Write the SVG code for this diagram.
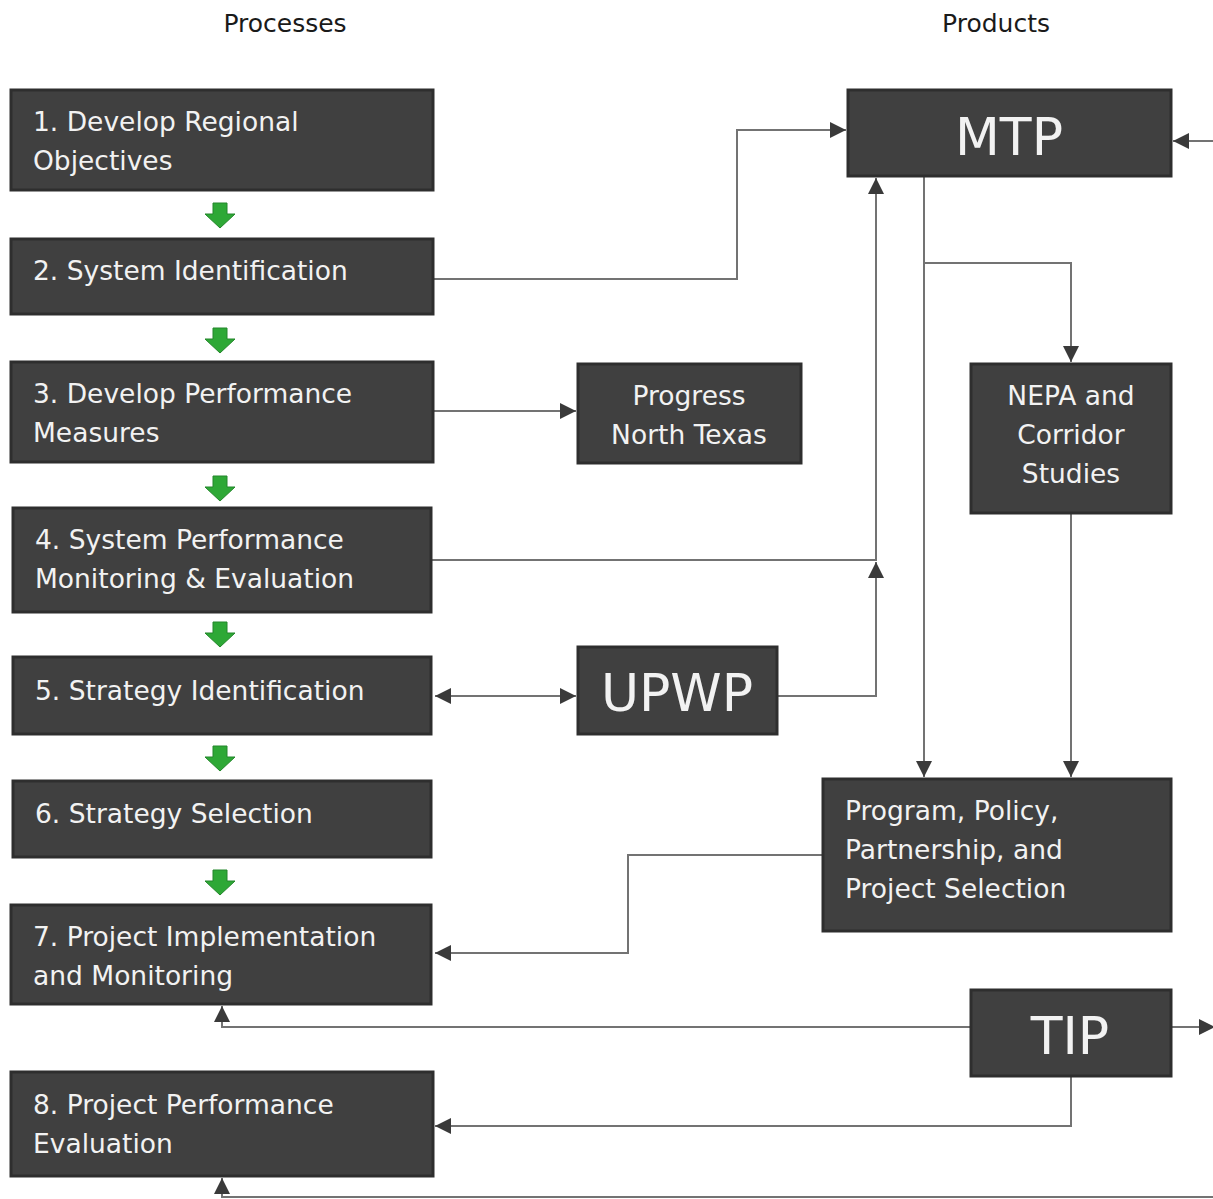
<svg xmlns="http://www.w3.org/2000/svg" width="1213" height="1199" viewBox="0 0 1213 1199">
<defs>
<style>
.box{fill:#404040;stroke:#2e2e2e;stroke-width:3}
.t{font-family:"DejaVu Sans",sans-serif;font-size:26.5px;fill:#f2f2f2}
.big{font-family:"DejaVu Sans",sans-serif;font-size:52px;fill:#f2f2f2;text-anchor:middle}
.c{text-anchor:middle}
.hdr{font-family:"DejaVu Sans",sans-serif;font-size:25px;fill:#1a1a1a;text-anchor:middle}
.ln{fill:none;stroke:#737373;stroke-width:2}
.g{fill:#2ea836;stroke:#23862a;stroke-width:1}
</style>
<marker id="ah" viewBox="0 0 10 10" refX="10" refY="5" markerWidth="16" markerHeight="16" markerUnits="userSpaceOnUse" orient="auto-start-reverse">
<path d="M0,0 L10,5 L0,10 Z" fill="#3a3a3a"/>
</marker>
<path id="garrow" d="M-7,0 H7 V11 H15 L0,25 L-15,11 H-7 Z"/>
</defs>
<rect width="1213" height="1199" fill="#ffffff"/>
<text class="hdr" x="285" y="32">Processes</text>
<text class="hdr" x="996" y="32">Products</text>

<g id="connectors">
<polyline class="ln" points="433,279 737,279 737,130 846,130" marker-end="url(#ah)"/>
<line class="ln" x1="433" y1="411" x2="576" y2="411" marker-end="url(#ah)"/>
<polyline class="ln" points="431,560 876,560 876,178" marker-end="url(#ah)"/>
<polyline class="ln" points="777,696 876,696 876,562" marker-end="url(#ah)"/>
<line class="ln" x1="435" y1="696" x2="576" y2="696" marker-start="url(#ah)" marker-end="url(#ah)"/>
<line class="ln" x1="924" y1="176" x2="924" y2="777" marker-end="url(#ah)"/>
<polyline class="ln" points="924,263 1071,263 1071,362" marker-end="url(#ah)"/>
<line class="ln" x1="1071" y1="513" x2="1071" y2="777" marker-end="url(#ah)"/>
<polyline class="ln" points="823,855 628,855 628,953 435,953" marker-end="url(#ah)"/>
<polyline class="ln" points="971,1027 222,1027 222,1006" marker-end="url(#ah)"/>
<line class="ln" x1="1171" y1="1027" x2="1215" y2="1027" marker-end="url(#ah)"/>
<polyline class="ln" points="1071,1076 1071,1126 435,1126" marker-end="url(#ah)"/>
<polyline class="ln" points="1215,1197 222,1197 222,1178" marker-end="url(#ah)"/>
<line class="ln" x1="1215" y1="141" x2="1173" y2="141" marker-end="url(#ah)"/>
</g>

<g id="flow-arrows">
<use href="#garrow" class="g" x="220" y="203"/>
<use href="#garrow" class="g" x="220" y="328"/>
<use href="#garrow" class="g" x="220" y="476"/>
<use href="#garrow" class="g" x="220" y="622"/>
<use href="#garrow" class="g" x="220" y="746"/>
<use href="#garrow" class="g" x="220" y="870"/>
</g>

<g id="n1"><rect class="box" x="11" y="90" width="422" height="100"/>
<text class="t" x="33" y="131">1. Develop Regional</text><text class="t" x="33" y="170">Objectives</text></g>
<g id="n2"><rect class="box" x="11" y="239" width="422" height="75"/>
<text class="t" x="33" y="280">2. System Identification</text></g>
<g id="n3"><rect class="box" x="11" y="362" width="422" height="100"/>
<text class="t" x="33" y="403">3. Develop Performance</text><text class="t" x="33" y="442">Measures</text></g>
<g id="n4"><rect class="box" x="13" y="508" width="418" height="104"/>
<text class="t" x="35" y="549">4. System Performance</text><text class="t" x="35" y="588">Monitoring &amp; Evaluation</text></g>
<g id="n5"><rect class="box" x="13" y="657" width="418" height="77"/>
<text class="t" x="35" y="700">5. Strategy Identification</text></g>
<g id="n6"><rect class="box" x="13" y="781" width="418" height="76"/>
<text class="t" x="35" y="823">6. Strategy Selection</text></g>
<g id="n7"><rect class="box" x="11" y="905" width="420" height="99"/>
<text class="t" x="33" y="946">7. Project Implementation</text><text class="t" x="33" y="985">and Monitoring</text></g>
<g id="n8"><rect class="box" x="11" y="1072" width="422" height="104"/>
<text class="t" x="33" y="1114">8. Project Performance</text><text class="t" x="33" y="1153">Evaluation</text></g>

<g id="progress"><rect class="box" x="578" y="364" width="223" height="99"/>
<text class="t c" x="689" y="405">Progress</text><text class="t c" x="689" y="444">North Texas</text></g>
<g id="upwp"><rect class="box" x="578" y="647" width="199" height="87"/>
<text class="big" x="677" y="711" font-size="50">UPWP</text></g>
<g id="mtp"><rect class="box" x="848" y="90" width="323" height="86"/>
<text class="big" x="1009" y="155">MTP</text></g>
<g id="nepa"><rect class="box" x="971" y="364" width="200" height="149"/>
<text class="t c" x="1071" y="405">NEPA and</text><text class="t c" x="1071" y="444">Corridor</text><text class="t c" x="1071" y="483">Studies</text></g>
<g id="program"><rect class="box" x="823" y="779" width="348" height="152"/>
<text class="t" x="845" y="820">Program, Policy,</text><text class="t" x="845" y="859">Partnership, and</text><text class="t" x="845" y="898">Project Selection</text></g>
<g id="tip"><rect class="box" x="971" y="990" width="200" height="86"/>
<text class="big" x="1070" y="1054">TIP</text></g>
</svg>
